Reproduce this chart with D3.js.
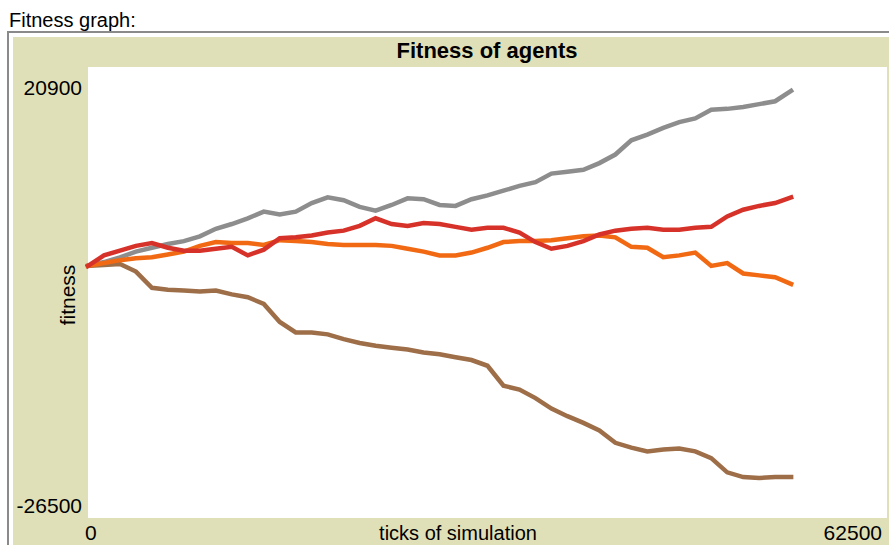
<!DOCTYPE html>
<html>
<head>
<meta charset="utf-8">
<script src="https://cdn.jsdelivr.net/npm/d3@7"></script>
<style>
  body { margin: 0; background: #ffffff; }
  text { font-family: "Liberation Sans", Arial, sans-serif; }
</style>
</head>
<body>
<div id="chart-area"></div>
<script>
var ticks = [0, 1250, 2500, 3750, 5000, 6250, 7500, 8750, 10000, 11250, 12500, 13750,
	15000, 16250, 17500, 18750, 20000, 21250, 22500, 23750, 25000, 26250, 27500, 28750,
	30000, 31250, 32500, 33750, 35000, 36250, 37500, 38750, 40000, 41250, 42500, 43750,
	45000, 46250, 47500, 48750, 50000, 51250, 52500, 53750, 55000];

var grayPen = [0, 400, 900, 1500, 1900, 2300, 2600, 3100, 3900, 4400, 5000, 5700,
	5400, 5700, 6600, 7200, 6900, 6200, 5800, 6400, 7100, 7000, 6400, 6300,
	7000, 7400, 7900, 8400, 8800, 9700, 9900, 10100, 10800, 11700, 13200, 13800,
	14500, 15100, 15500, 16400, 16500, 16700, 17000, 17300, 18400];

var brownPen = [0, 100, 200, -600, -2300, -2500, -2600, -2700, -2600, -3000, -3300, -4000,
	-5900, -7000, -7000, -7200, -7700, -8100, -8400, -8600, -8800, -9100, -9300, -9600,
	-9900, -10500, -12600, -13000, -13900, -15000, -15800, -16500, -17300, -18600, -19100, -19500,
	-19300, -19200, -19500, -20200, -21700, -22200, -22300, -22200, -22200];

var orangePen = [0, 300, 600, 800, 900, 1200, 1500, 2100, 2500, 2400, 2400, 2200,
	2700, 2600, 2500, 2300, 2200, 2200, 2200, 2100, 1800, 1500, 1100, 1100,
	1400, 1900, 2500, 2600, 2600, 2700, 2900, 3100, 3200, 3000, 2000, 1900,
	900, 1100, 1400, 0, 300, -800, -1000, -1200, -1900];

var redPen = [0, 1100, 1600, 2100, 2400, 1900, 1600, 1600, 1800, 2000, 1100, 1700,
	2900, 3000, 3200, 3500, 3700, 4200, 5000, 4400, 4200, 4500, 4400, 4100,
	3800, 4000, 4000, 3500, 2500, 1800, 2100, 2600, 3300, 3700, 3900, 4000,
	3800, 3800, 4000, 4100, 5200, 5900, 6300, 6600, 7200];

var xDomain = [0, 62500];
var yDomain = [-26500, 20900];

var pens = [
	{ name: "gray", color: "#8d8d8d", values: grayPen },
	{ name: "brown", color: "#9d6e48", values: brownPen },
	{ name: "orange", color: "#f16913", values: orangePen },
	{ name: "red", color: "#d73229", values: redPen }
];

var W = 889, H = 545;
var plot = { left: 88, right: 887, top: 67, bottom: 518 };

var svg = d3.select("#chart-area")
	.append("svg")
		.attr("width", W)
		.attr("height", H);

// widget label
svg.append("text")
	.attr("x", 9)
	.attr("y", 27)
	.attr("font-size", "20px")
	.attr("fill", "#000")
	.text("Fitness graph:");

// frame
svg.append("rect")
	.attr("x", 8)
	.attr("y", 32)
	.attr("width", 900)
	.attr("height", 530)
	.attr("fill", "#ffffff")
	.attr("stroke", "#8a8a8a")
	.attr("stroke-width", 2);

svg.append("rect")
	.attr("x", 13)
	.attr("y", 37)
	.attr("width", 900)
	.attr("height", 520)
	.attr("fill", "#e0e0b8");

// plot area
svg.append("rect")
	.attr("x", plot.left)
	.attr("y", plot.top)
	.attr("width", plot.right - plot.left)
	.attr("height", plot.bottom - plot.top)
	.attr("fill", "#ffffff");

// title
svg.append("text")
	.attr("x", 487)
	.attr("y", 58)
	.attr("font-size", "22px")
	.attr("font-weight", "bold")
	.attr("text-anchor", "middle")
	.text("Fitness of agents");

var x = d3.scaleLinear()
	.domain(xDomain)
	.range([plot.left, plot.right]);

var y = d3.scaleLinear()
	.domain(yDomain)
	.range([plot.bottom, plot.top]);

// axis min / max labels
svg.append("text")
	.attr("x", 82)
	.attr("y", 95)
	.attr("font-size", "21px")
	.attr("text-anchor", "end")
	.text(String(yDomain[1]));

svg.append("text")
	.attr("x", 82)
	.attr("y", 513)
	.attr("font-size", "21px")
	.attr("text-anchor", "end")
	.text(String(yDomain[0]));

svg.append("text")
	.attr("x", x(xDomain[0]) - 3)
	.attr("y", 540)
	.attr("font-size", "21px")
	.text(String(xDomain[0]));

svg.append("text")
	.attr("x", 882)
	.attr("y", 540)
	.attr("font-size", "21px")
	.attr("text-anchor", "end")
	.text(String(xDomain[1]));

// X label
svg.append("text")
	.attr("x", 458)
	.attr("y", 540)
	.attr("font-size", "20px")
	.attr("text-anchor", "middle")
	.text("ticks of simulation");

// Y label
svg.append("text")
	.attr("x", -295)
	.attr("y", 75)
	.attr("font-size", "21px")
	.attr("text-anchor", "middle")
	.attr("transform", "rotate(-90)")
	.text("fitness");

var line = d3.line()
	.x(function(d, i) { return x(ticks[i]); })
	.y(function(d) { return y(d); });

svg.append("g")
	.selectAll("path")
	.data(pens)
	.enter()
	.append("path")
		.attr("d", function(d) { return line(d.values); })
		.attr("fill", "none")
		.attr("stroke", function(d) { return d.color; })
		.attr("stroke-width", 4.5)
		.attr("stroke-linejoin", "miter")
		.attr("stroke-linecap", "square");
</script>
</body>
</html>
